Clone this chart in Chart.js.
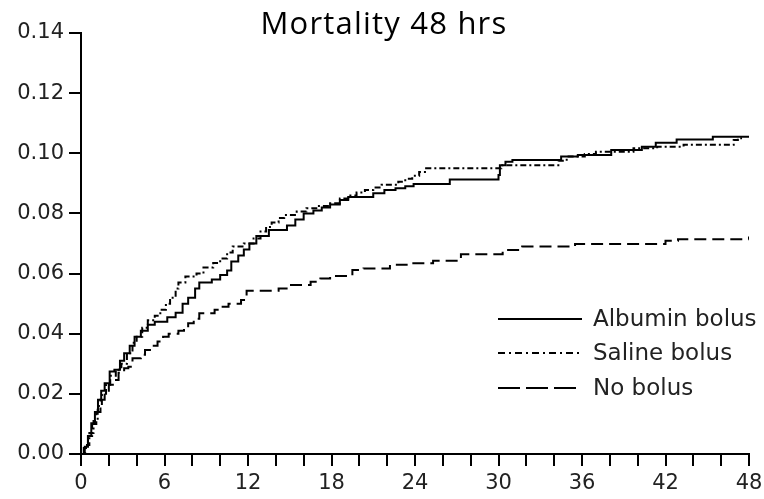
<!DOCTYPE html>
<html>
<head>
<meta charset="utf-8">
<script src="https://cdn.jsdelivr.net/npm/chart.js@4.4.1/dist/chart.umd.min.js"></script>
<style>
  body { margin: 0; background: #fff; }
  #chart { display: block; }
</style>
</head>
<body>
<canvas id="chart" width="764" height="499"></canvas>
<script>
// Cumulative mortality over first 48 hours
const chartTitle = 'Mortality 48 hrs';
const seriesLabels = ['Albumin bolus', 'Saline bolus', 'No bolus'];

const albuminHours = [0, 0.27, 0.5, 0.74, 1.0, 1.22, 1.45, 1.7, 2.06, 2.4, 2.8, 3.1, 3.5, 3.85, 4.3, 4.8, 5.3, 6.2, 6.8, 7.3, 7.7, 8.2, 8.5, 9.4, 10.0, 10.5, 10.8, 11.3, 11.7, 12.1, 12.6, 13.5, 14.8, 15.4, 16.0, 16.7, 17.3, 17.9, 18.6, 19.2, 21.0, 21.8, 22.6, 23.3, 23.9, 26.5, 30.0, 30.1, 30.5, 31.0, 34.5, 35.7, 38.1, 40.3, 41.3, 42.8, 45.4, 48];
const albuminRisk  = [0, 0.0024, 0.006, 0.0102, 0.014, 0.018, 0.021, 0.0235, 0.0274, 0.028, 0.031, 0.0335, 0.036, 0.039, 0.041, 0.043, 0.044, 0.0455, 0.047, 0.050, 0.052, 0.055, 0.057, 0.058, 0.0595, 0.061, 0.064, 0.066, 0.068, 0.070, 0.0725, 0.0745, 0.076, 0.078, 0.080, 0.081, 0.082, 0.083, 0.0845, 0.0855, 0.0867, 0.0878, 0.0884, 0.089, 0.0898, 0.0913, 0.0928, 0.096, 0.0972, 0.0978, 0.0989, 0.0994, 0.1011, 0.1022, 0.1035, 0.1046, 0.1055, 0.1055];

const salineHours = [0, 0.3, 0.6, 0.9, 1.2, 1.5, 1.8, 2.1, 2.5, 2.9, 3.3, 3.7, 4.0, 4.4, 4.8, 5.3, 5.7, 6.1, 6.4, 6.8, 7.0, 7.5, 8.3, 8.8, 9.5, 10.0, 10.5, 10.9, 11.7, 12.4, 12.9, 13.3, 13.7, 14.2, 14.6, 15.5, 16.2, 17.0, 17.9, 18.6, 19.2, 19.8, 20.4, 21.0, 21.6, 22.8, 23.3, 23.8, 24.3, 24.8, 30.2, 34.3, 34.9, 36.2, 37.0, 39.7, 41.4, 43.3, 46.9, 47.2, 47.5];
const salineRisk  = [0, 0.003, 0.007, 0.011, 0.016, 0.02, 0.023, 0.026, 0.028, 0.030, 0.0335, 0.037, 0.039, 0.042, 0.0445, 0.046, 0.048, 0.050, 0.052, 0.055, 0.057, 0.059, 0.060, 0.062, 0.0635, 0.065, 0.067, 0.069, 0.070, 0.0717, 0.074, 0.0755, 0.077, 0.0785, 0.0795, 0.0806, 0.0817, 0.0825, 0.0834, 0.085, 0.086, 0.087, 0.0878, 0.0886, 0.0895, 0.0905, 0.0915, 0.0925, 0.0938, 0.095, 0.096, 0.0975, 0.0989, 0.0998, 0.1005, 0.1017, 0.1022, 0.1028, 0.1044, 0.105, 0.105];

const noBolusHours = [0, 0.2, 0.5, 0.8, 1.1, 1.4, 1.7, 2.0, 2.4, 2.7, 3.1, 3.4, 3.7, 4.3, 4.6, 5.1, 5.5, 5.9, 6.3, 7.0, 7.4, 7.7, 8.1, 8.5, 9.6, 10.0, 10.6, 11.5, 11.9, 14.2, 15.0, 16.5, 17.2, 17.9, 19.5, 20.3, 22.2, 23.4, 25.3, 27.3, 30.3, 31.7, 35.5, 42.0, 42.9, 48];
const noBolusRisk  = [0, 0.002, 0.006, 0.010, 0.014, 0.018, 0.021, 0.023, 0.0246, 0.027, 0.0285, 0.029, 0.0318, 0.033, 0.0346, 0.036, 0.0374, 0.039, 0.040, 0.041, 0.042, 0.0435, 0.045, 0.0468, 0.048, 0.049, 0.050, 0.0512, 0.0543, 0.055, 0.0562, 0.0573, 0.0584, 0.0592, 0.0612, 0.0617, 0.0629, 0.0634, 0.0643, 0.0664, 0.0678, 0.069, 0.0698, 0.0709, 0.0714, 0.0723];

const xTickStep = 2;      // minor ticks every 2 h
const xLabelEvery = 6;    // labels every 6 h
const yTickStep = 0.02;

function toPoints(xs, ys) {
    return xs.map(function(x, i) { return { x: x, y: ys[i] }; });
}

const tickFont = { family: 'DejaVu Sans', size: 21 };
const legendDashes = [[], [7, 4, 2, 4], [22, 6]];

// title + legend drawn inside the plot like the original figure
const overlayPlugin = {
    id: 'overlay',
    afterDraw: function(chart) {
        const ctx = chart.ctx;
        ctx.save();
        ctx.fillStyle = '#000';
        ctx.font = '31px "Open Sans"';
        ctx.letterSpacing = '1.2px';
        ctx.textAlign = 'center';
        ctx.textBaseline = 'alphabetic';
        ctx.fillText(chartTitle, 384, 34);
        ctx.letterSpacing = '0px';

        const rows = [319, 353, 388];
        chart.data.datasets.forEach(function(ds, i) {
            ctx.strokeStyle = '#000';
            ctx.lineWidth = 2;
            ctx.setLineDash(legendDashes[i]);
            ctx.beginPath();
            ctx.moveTo(498, rows[i]);
            ctx.lineTo(582, rows[i]);
            ctx.stroke();
            ctx.setLineDash([]);
            ctx.fillStyle = '#222';
            ctx.font = '23px "DejaVu Sans"';
            ctx.textAlign = 'left';
            ctx.textBaseline = 'middle';
            ctx.fillText(ds.label, 593, rows[i] + 1);
        });
        ctx.restore();
    }
};

const ctx = document.getElementById('chart');
new Chart(ctx, {
    type: 'line',
    data: {
        datasets: [{
            label: seriesLabels[0],
            data: toPoints(albuminHours, albuminRisk),
            borderColor: '#000',
            borderWidth: 2,
            stepped: true,
            pointRadius: 0,
            fill: false
        }, {
            label: seriesLabels[1],
            data: toPoints(salineHours, salineRisk),
            borderColor: '#000',
            borderWidth: 2,
            borderDash: [6, 3, 2, 3],
            stepped: true,
            pointRadius: 0,
            fill: false
        }, {
            label: seriesLabels[2],
            data: toPoints(noBolusHours, noBolusRisk),
            borderColor: '#000',
            borderWidth: 2,
            borderDash: [12, 6],
            stepped: true,
            pointRadius: 0,
            fill: false
        }]
    },
    options: {
        responsive: false,
        animation: false,
        devicePixelRatio: 1,
        layout: { padding: { top: 33, right: 15, left: 0, bottom: 0 } },
        plugins: {
            legend: { display: false },
            title: { display: false },
            tooltip: { enabled: false }
        },
        scales: {
            x: {
                type: 'linear',
                min: 0,
                max: 48,
                grid: { drawOnChartArea: false, drawTicks: true, tickLength: 12, color: '#000', lineWidth: 2 },
                border: { color: '#000', width: 2 },
                ticks: {
                    stepSize: xTickStep,
                    autoSkip: false,
                    maxRotation: 0,
                    padding: 5,
                    color: '#222',
                    font: tickFont,
                    callback: function(v) { return v % xLabelEvery === 0 ? String(v) : ''; }
                },
                afterFit: function(s) { s.height = 45; s.paddingLeft = 0; s.paddingRight = 0; }
            },
            y: {
                min: 0,
                max: 0.14,
                grid: { drawOnChartArea: false, drawTicks: true, tickLength: 12, color: '#000', lineWidth: 2 },
                border: { color: '#000', width: 2 },
                ticks: {
                    stepSize: yTickStep,
                    padding: 5,
                    color: '#222',
                    font: tickFont,
                    callback: function(v) { return v.toFixed(2); }
                },
                afterFit: function(s) { s.width = 81; s.paddingTop = 0; s.paddingBottom = 0; }
            }
        }
    },
    plugins: [overlayPlugin]
});
</script>
</body>
</html>
